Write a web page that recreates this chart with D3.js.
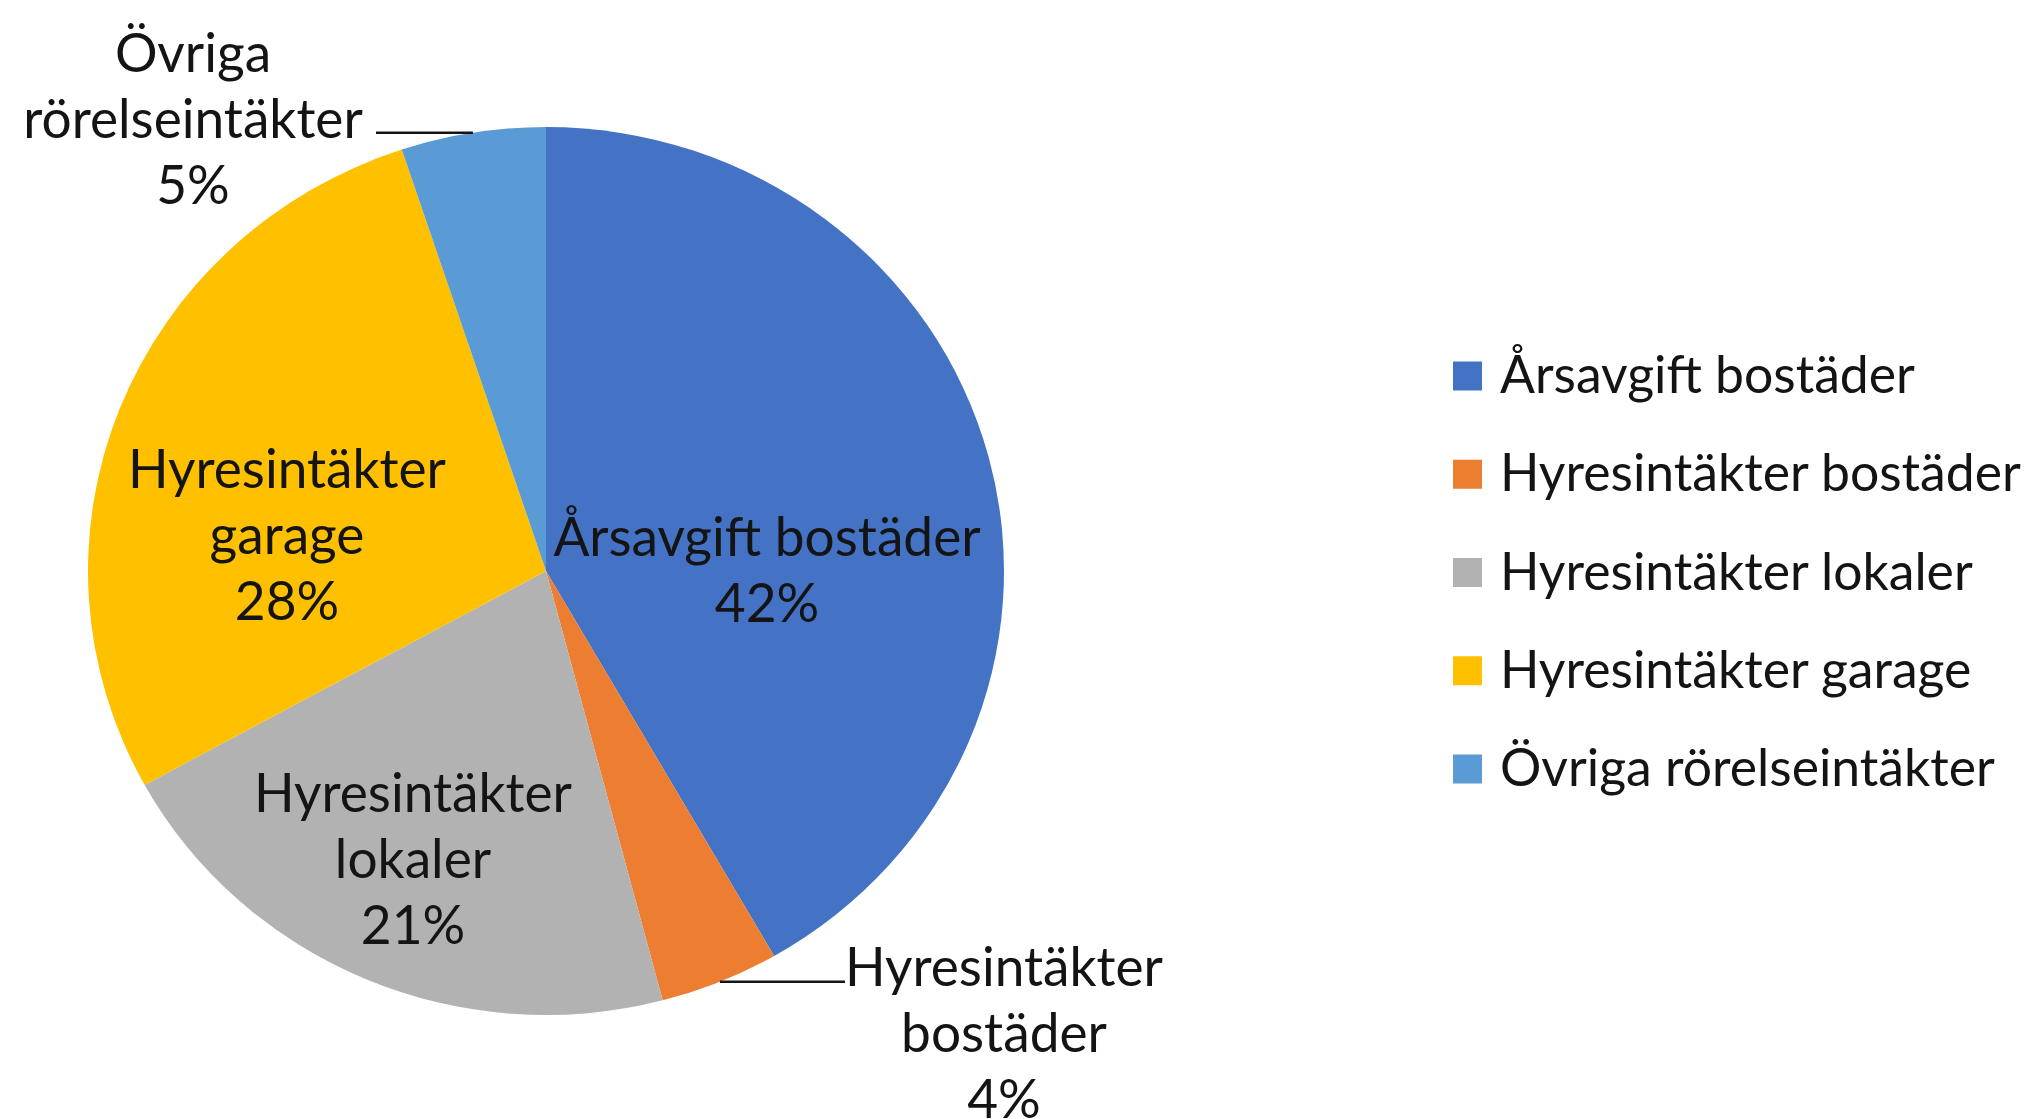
<!DOCTYPE html>
<html>
<head>
<meta charset="utf-8">
<script src="https://cdn.jsdelivr.net/npm/d3@7/dist/d3.min.js"></script>
<style>
  html, body { margin: 0; padding: 0; background: #ffffff; }
  svg { display: block; }
  text { font-family: Lato, "Open Sans", "DejaVu Sans", sans-serif; fill: #141414; }
</style>
</head>
<body>
<svg id="chart" width="2031" height="1119"></svg>
<script>
// ---- data ----
const categories = [
  "Årsavgift bostäder",
  "Hyresintäkter bostäder",
  "Hyresintäkter lokaler",
  "Hyresintäkter garage",
  "Övriga rörelseintäkter"
];
const values = [41.7, 4.2, 21.1, 27.9, 5.1];
const percentLabels = ["42%", "4%", "21%", "28%", "5%"];
const labelLines = [
  ["Årsavgift bostäder"],
  ["Hyresintäkter", "bostäder"],
  ["Hyresintäkter", "lokaler"],
  ["Hyresintäkter", "garage"],
  ["Övriga", "rörelseintäkter"]
];
const colors = ["#4472C4", "#ED7D31", "#B2B2B2", "#FFC000", "#5B9BD5"];

// ---- layout ----
const W = 2031, H = 1119;
const cx = 546, cy = 571, rx = 458, ry = 444;
const yScale = ry / rx;
const lineGap = 66;
// label placement (text block center x, first baseline y); outside labels get leader lines
const labelLayout = [
  { x: 767, y: 556, outside: false },
  { x: 1004, y: 986, outside: true, lineTo: 845 },
  { x: 413, y: 812, outside: false },
  { x: 287, y: 488, outside: false },
  { x: 193, y: 72, outside: true, lineTo: 376 }
];

const svg = d3.select("#chart");

// font sizing by measurement to match reference text widths
function measure(str, size) {
  const t = svg.append("text").style("font-size", size + "px").text(str);
  const w = t.node().getComputedTextLength();
  t.remove();
  return w;
}
const labelFont = 100 * 318 / measure("Hyresintäkter", 100);
const legendFont = 100 * 521 / measure("Hyresintäkter bostäder", 100);

const color = d3.scaleOrdinal().domain(categories).range(colors);
const pie = d3.pie().sort(null).value(d => d.value);
const data = categories.map((c, i) => ({ name: c, value: values[i], i }));
const arcs = pie(data);
const arc = d3.arc().innerRadius(0).outerRadius(rx);

const g = svg.append("g")
  .attr("transform", `translate(${cx},${cy}) scale(1,${yScale})`);

g.selectAll("path.slice")
  .data(arcs)
  .join("path")
  .attr("class", "slice")
  .attr("d", arc)
  .attr("fill", d => color(d.data.name));

// leader lines
arcs.forEach(a => {
  const L = labelLayout[a.data.i];
  if (!L.outside) return;
  const mid = (a.startAngle + a.endAngle) / 2;
  const px = cx + rx * Math.sin(mid);
  const py = cy - ry * Math.cos(mid);
  svg.append("line")
    .attr("x1", px).attr("y1", py)
    .attr("x2", L.lineTo).attr("y2", py)
    .attr("stroke", "#141414")
    .attr("stroke-width", 2.5);
});

// data labels
arcs.forEach(a => {
  const i = a.data.i;
  const L = labelLayout[i];
  const lines = labelLines[i].concat([percentLabels[i]]);
  const t = svg.append("text")
    .attr("text-anchor", "middle")
    .style("font-size", labelFont + "px");
  lines.forEach((ln, k) => {
    t.append("tspan")
      .attr("x", L.x)
      .attr("y", L.y + k * lineGap)
      .text(ln);
  });
});

// legend
const legendX = 1453, legendY0 = 376, legendStep = 98.25, sq = 29;
const leg = svg.append("g");
categories.forEach((c, i) => {
  const y = legendY0 + i * legendStep;
  leg.append("rect")
    .attr("x", legendX).attr("y", y - sq / 2)
    .attr("width", sq).attr("height", sq)
    .attr("fill", color(c));
  leg.append("text")
    .attr("x", 1500)
    .attr("y", y + legendFont * 0.33)
    .style("font-size", legendFont + "px")
    .text(c);
});
</script>
</body>
</html>
